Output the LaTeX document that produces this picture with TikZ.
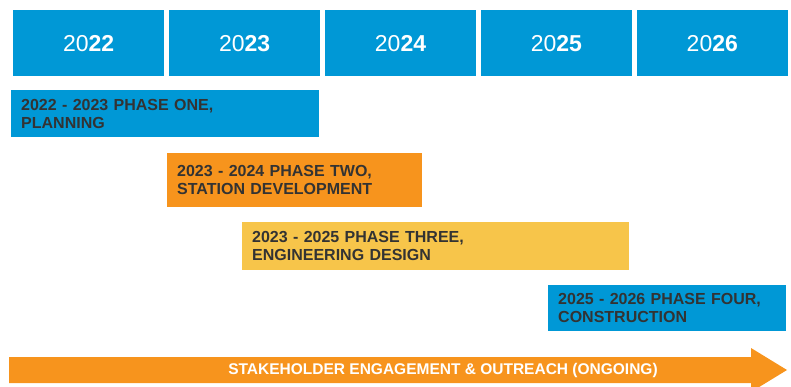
\documentclass[tikz,border=0pt]{standalone}
\usepackage{fontspec}
\setmainfont{Liberation Sans}
\usetikzlibrary{positioning}
\definecolor{tlblue}{HTML}{0098D6}
\definecolor{tlorange}{HTML}{F7941D}
\definecolor{tlyellow}{HTML}{F7C54A}
\definecolor{tltext}{HTML}{333333}
\tikzset{
  year/.style={rectangle, fill=tlblue, text=white, minimum width=151pt, minimum height=66pt,
    inner sep=0pt, font=\fontsize{23}{23}\selectfont},
  phase/.style={rectangle, anchor=north west, inner xsep=10pt, inner ysep=0pt, align=left,
    text=tltext, font=\fontsize{16}{18}\selectfont\bfseries}
}
\newcommand{\yr}[1]{20\textbf{#1}}

\begin{document}
\begin{tikzpicture}[x=1pt, y=-1pt, node distance=4.5pt]
      \useasboundingbox (0,0) rectangle (791,387);

      % year header
      \node[year, anchor=north west] (y22) at (13,10) {\yr{22}};
      \node[year] (y23) [right=of y22] {\yr{23}};
      \node[year] (y24) [right=of y23] {\yr{24}};
      \node[year] (y25) [right=of y24] {\yr{25}};
      \node[year] (y26) [right=of y25] {\yr{26}};

      % phases
      \node[phase, fill=tlblue, text width=288pt, minimum height=47pt] (p1) at (11,90)
        {2022 - 2023 PHASE ONE,\\PLANNING};
      \node[phase, fill=tlorange, text width=235pt, minimum height=54pt] (p2) at (167,153)
        {2023 - 2024 PHASE TWO,\\STATION DEVELOPMENT};
      \node[phase, fill=tlyellow, text width=367pt, minimum height=48pt] (p3) at (242,222)
        {2023 - 2025 PHASE THREE,\\ENGINEERING DESIGN};
      \node[phase, fill=tlblue, text width=218pt, minimum height=46pt] (p4) at (548,285)
        {2025 - 2026 PHASE FOUR,\\CONSTRUCTION};

      % ongoing arrow
      \fill[tlorange] (9,357) -- (751,357) -- (751,348) -- (787,370)
        -- (751,392) -- (751,383) -- (9,383) -- cycle;
      \node[text=white, font=\fontsize{15.5}{15.5}\selectfont\bfseries] (outreach) at (443,370)
        {STAKEHOLDER ENGAGEMENT \& OUTREACH (ONGOING)};
\end{tikzpicture}
\end{document}
